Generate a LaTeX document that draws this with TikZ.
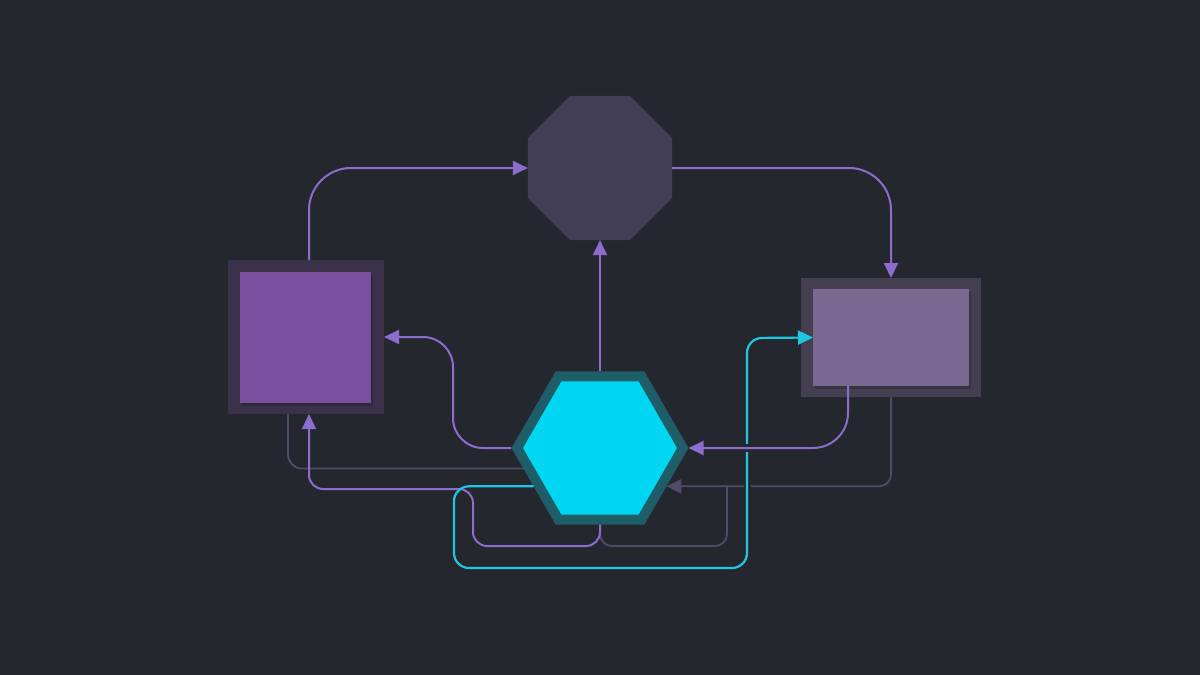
\documentclass[tikz,border=0pt]{standalone}
\usetikzlibrary{arrows.meta,shapes.geometric,calc}
\definecolor{bg}{RGB}{37,39,46}
\definecolor{lout}{RGB}{58,49,74}
\definecolor{lin}{RGB}{122,79,158}
\definecolor{rout}{RGB}{69,63,82}
\definecolor{rin}{RGB}{123,104,145}
\definecolor{octc}{RGB}{67,63,86}
\definecolor{hexo}{RGB}{30,94,105}
\definecolor{hexi}{RGB}{0,213,242}
\definecolor{pcol}{RGB}{140,108,205}
\definecolor{gcol}{RGB}{82,74,102}
\definecolor{ccol}{RGB}{30,200,225}
\definecolor{shad}{RGB}{30,31,38}
\tikzset{
  boxshape/.style={draw=none, inner sep=0pt, outer sep=0pt},
  polyshape/.style={regular polygon, draw=none, inner sep=0pt, outer sep=0pt},
  tip/.style={-{Triangle[length=15pt,width=14pt]}},
  pline/.style={draw=pcol, line width=2pt, tip},
  gline/.style={draw=gcol, line width=1.8pt},
  garrow/.style={draw=gcol, line width=1.8pt, tip},
  cline/.style={draw=ccol, line width=2.2pt, tip},
}
\begin{document}
\begin{tikzpicture}[x=1pt,y=-1pt]
\fill[bg] (0,0) rectangle (1200,675);
\useasboundingbox (0,0) rectangle (1200,675);

% left box
\node[boxshape, fill=lout, minimum width=156pt, minimum height=154pt] (Lo) at (306,337) {};
\fill[black, opacity=0.18] (241,275) rectangle (373,406);
\node[boxshape, fill=lin, minimum width=131pt, minimum height=131pt] (Li) at (305.5,337.5) {};
% right box
\node[boxshape, fill=rout, minimum width=180pt, minimum height=119pt] (Ro) at (891,337.5) {};
\fill[black, opacity=0.18] (814,292) rectangle (971,389);
\node[boxshape, fill=rin, minimum width=156pt, minimum height=97pt] (Ri) at (891,337.5) {};
% octagon
\node[polyshape, regular polygon sides=8, fill=octc, minimum size=156pt] (Oct) at (600,168) {};
% hexagon
\node[polyshape, regular polygon sides=6, fill=hexo, minimum size=177pt] (Hex) at (600,448) {};
\node[polyshape, regular polygon sides=6, fill=hexi, minimum size=154pt] (Hexi) at (600,448) {};

% grey connectors
\draw[gline, rounded corners=14pt] (Hex.195) -| ($(Lo.south)+(-18,0)$);
\draw[garrow, rounded corners=12pt] (Ro.south) |- (Hex.-30);
\coordinate (gj) at (727,487);
\draw[gline, rounded corners=12pt] (Hex.south) |- (727,546) -- (gj);

% purple bottom connector to left box
\draw[pline, rounded corners=14pt] (Hex.south) |- (473,546) |- ($(Lo.south)+(3,75)$) -- ($(Lo.south)+(3,0)$);

% gap in grey where cyan crosses
\draw[bg, line width=7pt] (747,482) -- (747,492);
% cyan connector
\draw[cline, rounded corners=15pt] (Hex.210) -| (454,568) -| (747,338) -- (Ri.west);

% gap in cyan where purple crosses
\draw[bg, line width=8pt] (741,448) -- (753,448);

% purple connectors
\draw[pline, rounded corners=42pt] ($(Lo.north)+(3,0)$) |- (Oct.west);
\draw[pline, rounded corners=42pt] (Oct.east) -| (Ro.north);
\draw[pline] (Hex.north) -- (Oct.south);
\draw[pline, rounded corners=30pt] (Hex.west) -| (453,337) -- (Lo.east);
\draw[pline, rounded corners=35pt] ($(Ri.south)+(-43,0)$) |- (Hex.east);
\end{tikzpicture}
\end{document}
